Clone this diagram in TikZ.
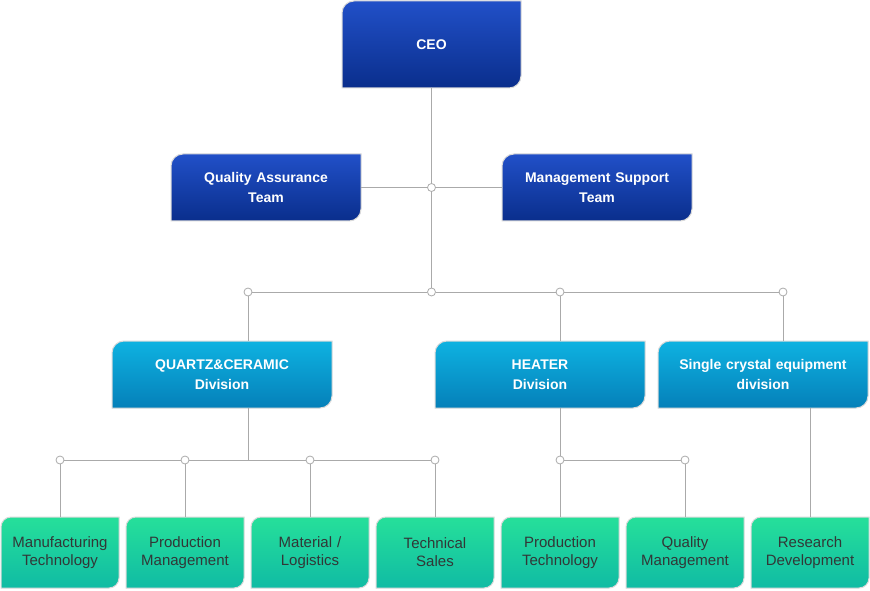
\documentclass[tikz,border=0pt]{standalone}
\usepackage{fontspec}
\setmainfont{Liberation Sans}
\definecolor{bluetop}{RGB}{33,80,200}
\definecolor{bluebot}{RGB}{10,46,140}
\definecolor{cyantop}{RGB}{14,178,225}
\definecolor{cyanbot}{RGB}{5,128,185}
\definecolor{greentop}{RGB}{38,224,154}
\definecolor{greenbot}{RGB}{16,187,164}
\definecolor{conngray}{RGB}{170,170,170}
\definecolor{boxline}{RGB}{218,218,218}
\definecolor{darktext}{RGB}{50,55,55}
\tikzset{
  bluefill/.style={top color=bluetop,bottom color=bluebot},
  cyanfill/.style={top color=cyantop,bottom color=cyanbot},
  greenfill/.style={top color=greentop,bottom color=greenbot},
  headtext/.style={text=white,font=\fontsize{14}{20}\selectfont\bfseries,align=center},
  leaftext/.style={text=darktext,font=\fontsize{15}{18}\selectfont,align=center},
  junc/.style={circle,draw=conngray,fill=white,minimum size=8pt,inner sep=0pt,line width=0.8pt},
  conn/.style={draw=conngray,line width=0.8pt},
}
% name, x-left, y-top (image px), width, height, radius, fill style, text style, text
\newcommand\orgbox[9]{%
  \pgfmathsetmacro\bxl{#2}%
  \pgfmathsetmacro\bxr{#2+#4}%
  \pgfmathsetmacro\byt{590-#3}%
  \pgfmathsetmacro\byb{590-#3-#5}%
  \path[#7,draw=boxline,line width=1pt]
    (\bxl,\byb) -- (\bxl,\byt-#6)
    arc[start angle=180,end angle=90,radius=#6pt]
    -- (\bxr,\byt) -- (\bxr,\byb+#6)
    arc[start angle=0,end angle=-90,radius=#6pt] -- cycle;
  \node[#8,inner sep=0pt,text width=#4pt,minimum height=#5pt] (#1)
    at ({#2+#4/2},{590-#3-#5/2}) {#9};%
}
\begin{document}
\begin{tikzpicture}[x=1pt,y=1pt]
\useasboundingbox[fill=white] (0,0) rectangle (870,590);

% boxes
\orgbox{ceo}{342}{1}{179}{87}{12}{bluefill}{headtext}{CEO}
\orgbox{qa}{171}{154}{190}{67}{12}{bluefill}{headtext}{Quality Assurance\\Team}
\orgbox{mst}{502}{154}{190}{67}{12}{bluefill}{headtext}{Management Support\\Team}
\orgbox{qc}{112}{341}{220}{67}{12}{cyanfill}{headtext}{QUARTZ\&CERAMIC\\Division}
\orgbox{ht}{435}{341}{210}{67}{12}{cyanfill}{headtext}{HEATER\\Division}
\orgbox{sc}{658}{341}{210}{67}{12}{cyanfill}{headtext}{Single crystal equipment\\division}
\orgbox{l1}{1}{517}{118}{71}{10}{greenfill}{leaftext}{Manufacturing\\Technology}
\orgbox{l2}{126}{517}{118}{71}{10}{greenfill}{leaftext}{Production\\Management}
\orgbox{l3}{251}{517}{118}{71}{10}{greenfill}{leaftext}{Material /\\Logistics}
\orgbox{l4}{376}{517}{118}{71}{10}{greenfill}{leaftext}{Technical\\Sales}
\orgbox{l5}{501}{517}{118}{71}{10}{greenfill}{leaftext}{Production\\Technology}
\orgbox{l6}{626}{517}{118}{71}{10}{greenfill}{leaftext}{Quality\\Management}
\orgbox{l7}{751}{517}{118}{71}{10}{greenfill}{leaftext}{Research\\Development}

% junctions
\node[junc] (j1) at (431.5,402.5) {};
\node[junc] (j2) at (431.5,298) {};
\node[junc] (jq) at (248,298) {};
\node[junc] (jh) at (560,298) {};
\node[junc] (js) at (783,298) {};
\node[junc] (m1) at (60,130) {};
\node[junc] (m2) at (185,130) {};
\node[junc] (m3) at (310,130) {};
\node[junc] (m4) at (435,130) {};
\coordinate (t1) at (248,130);
\node[junc] (p1) at (560,130) {};
\node[junc] (p2) at (685,130) {};

% connectors
\draw[conn] (ceo) -- (j1);
\draw[conn] (qa) -- (j1);
\draw[conn] (j1) -- (mst);
\draw[conn] (j1) -- (j2);
\draw[conn] (j2) -- (jq);
\draw[conn] (j2) -- (jh);
\draw[conn] (jh) -- (js);
\draw[conn] (jq) -- (jq |- qc.north);
\draw[conn] (jh) -- (jh |- ht.north);
\draw[conn] (js) -- (js |- sc.north);
\draw[conn] (qc.south -| t1) -- (t1);
\draw[conn] (m1) -- (m2);
\draw[conn] (m2) -- (m3);
\draw[conn] (m3) -- (m4);
\draw[conn] (m1) -- (l1);
\draw[conn] (m2) -- (l2);
\draw[conn] (m3) -- (l3);
\draw[conn] (m4) -- (l4);
\draw[conn] (ht.south -| p1) -- (p1);
\draw[conn] (p1) -- (p2);
\draw[conn] (p1) -- (l5);
\draw[conn] (p2) -- (l6);
\draw[conn] (sc.south -| l7) -- (l7);
\end{tikzpicture}
\end{document}
